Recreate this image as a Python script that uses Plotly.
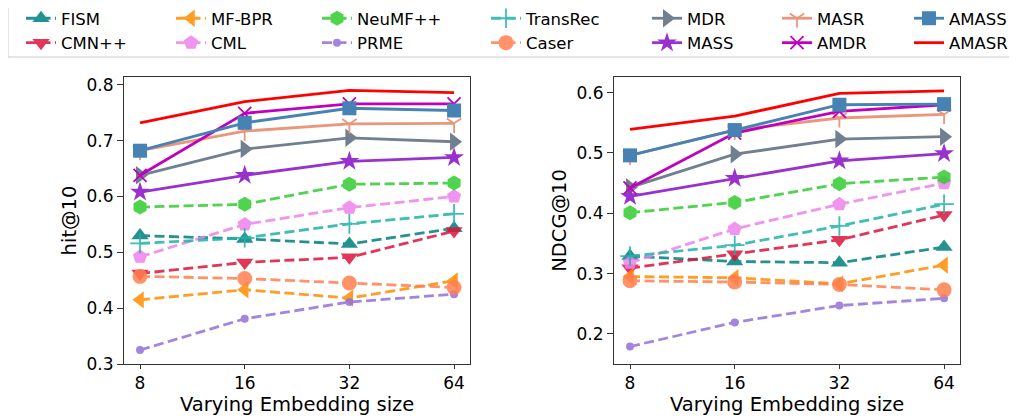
import plotly.graph_objects as go

sizes = [8, 16, 32, 64]
size_labels = ["8", "16", "32", "64"]

methods = ["FISM", "CMN++", "MF-BPR", "CML", "NeuMF++", "PRME", "TransRec",
           "Caser", "MDR", "MASS", "MASR", "AMDR", "AMASS", "AMASR"]

hit10 = {
    "FISM":     [0.530, 0.524, 0.515, 0.543],
    "CMN++":    [0.462, 0.482, 0.491, 0.538],
    "MF-BPR":   [0.415, 0.433, 0.418, 0.449],
    "CML":      [0.492, 0.550, 0.580, 0.600],
    "NeuMF++":  [0.581, 0.586, 0.622, 0.624],
    "PRME":     [0.325, 0.381, 0.411, 0.425],
    "TransRec": [0.516, 0.526, 0.551, 0.569],
    "Caser":    [0.457, 0.453, 0.445, 0.437],
    "MDR":      [0.638, 0.685, 0.705, 0.698],
    "MASS":     [0.608, 0.638, 0.663, 0.670],
    "MASR":     [0.682, 0.717, 0.730, 0.731],
    "AMDR":     [0.638, 0.749, 0.766, 0.766],
    "AMASS":    [0.682, 0.732, 0.758, 0.754],
    "AMASR":    [0.732, 0.770, 0.790, 0.786],
}

ndcg10 = {
    "FISM":     [0.329, 0.320, 0.318, 0.344],
    "CMN++":    [0.309, 0.332, 0.356, 0.397],
    "MF-BPR":   [0.295, 0.293, 0.283, 0.314],
    "CML":      [0.318, 0.374, 0.415, 0.450],
    "NeuMF++":  [0.401, 0.418, 0.449, 0.460],
    "PRME":     [0.179, 0.219, 0.247, 0.259],
    "TransRec": [0.329, 0.347, 0.379, 0.415],
    "Caser":    [0.288, 0.286, 0.282, 0.273],
    "MDR":      [0.443, 0.498, 0.523, 0.527],
    "MASS":     [0.428, 0.458, 0.487, 0.499],
    "MASR":     [0.496, 0.538, 0.558, 0.564],
    "AMDR":     [0.442, 0.533, 0.569, 0.580],
    "AMASS":    [0.496, 0.538, 0.580, 0.581],
    "AMASR":    [0.539, 0.561, 0.599, 0.603],
}

x_title = "Varying Embedding size"
y_titles = ["hit@10", "NDCG@10"]

style = {
    "FISM":     ("#008080", "dash", "triangle-up", 15),
    "CMN++":    ("#DC143C", "dash", "triangle-down", 15),
    "MF-BPR":   ("#FF8C00", "dash", "triangle-left", 15),
    "CML":      ("#EE82EE", "dash", "pentagon", 15),
    "NeuMF++":  ("#32CD32", "dash", "hexagon", 15),
    "PRME":     ("#9370DB", "dash", "circle", 8),
    "TransRec": ("#20B2AA", "dash", "cross-thin", 14),
    "Caser":    ("#FF7F50", "dash", "circle", 15),
    "MDR":      ("#708090", "solid", "triangle-right", 16),
    "MASS":     ("#9932CC", "solid", "star", 15),
    "MASR":     ("#E9967A", "solid", "y-down", 12),
    "AMDR":     ("#BF00BF", "solid", "x-thin", 13),
    "AMASS":    ("#4682B4", "solid", "square", 14),
    "AMASR":    ("#FF0000", "solid", None, 0),
}

# legend columns (column-major, 2 rows)
legend_cols = [["FISM", "CMN++"], ["MF-BPR", "CML"], ["NeuMF++", "PRME"],
               ["TransRec", "Caser"], ["MDR", "MASS"], ["MASR", "AMDR"],
               ["AMASS", "AMASR"]]
legend_text_x = [62, 212, 358, 527, 688, 818, 950]

W, H = 1017, 419
OFF = 8  # page body margin offset


def px(x):
    return (x - OFF) / W


def py(y):
    return 1 - (y - OFF) / H


fig = go.Figure()

legend_of = {}
for ci, col in enumerate(legend_cols):
    for m in col:
        legend_of[m] = "legend" if ci == 0 else f"legend{ci+1}"

for panel, (data, xa, ya) in enumerate([(hit10, "x", "y"), (ndcg10, "x2", "y2")]):
    for m in methods:
        color, dash, sym, msz = style[m]
        thin = sym in ("cross-thin", "x-thin", "y-down")
        marker = dict(symbol=sym, size=msz, color=color,
                      line=dict(color=color, width=1.8 if thin else 0)) if sym else None
        fig.add_trace(go.Scatter(
            x=sizes, y=data[m], name=m, xaxis=xa, yaxis=ya,
            mode="lines+markers" if sym else "lines",
            line=dict(color=color, width=2.8,
                      dash="10px,4.5px" if dash == "dash" else "solid"),
            marker=marker,
            opacity=0.85 if dash == "dash" else 1.0,
            showlegend=(panel == 0), legend=legend_of[m],
        ))

axis_common = dict(
    showline=True, linecolor="#333333", linewidth=1, mirror=True,
    ticks="outside", ticklen=6, tickcolor="#333333",
    showgrid=False, zeroline=False, automargin=False,
    tickfont=dict(family="DejaVu Sans", size=17, color="black"),
)
xcommon = dict(axis_common, type="log", tickvals=sizes, ticktext=size_labels,
               range=[0.857, 1.852], ticklen=4)
title_font = dict(family="DejaVu Sans", size=19.5, color="black")

x_domains = [[px(124), px(470)], [px(614), px(960)]]

layout = dict(
    width=W, height=H, margin=dict(l=0, r=0, t=0, b=0, autoexpand=False),
    paper_bgcolor="white", plot_bgcolor="white",
    font=dict(family="DejaVu Sans", size=16, color="black"),
    xaxis=dict(xcommon, domain=x_domains[0], anchor="y"),
    xaxis2=dict(xcommon, domain=x_domains[1], anchor="y2"),
    yaxis=dict(axis_common, domain=[py(364), py(77)], anchor="x",
               range=[0.3, 0.814], tickvals=[0.3, 0.4, 0.5, 0.6, 0.7, 0.8],
               ticktext=["0.3", "0.4", "0.5", "0.6", "0.7", "0.8"],
               title=dict(text=y_titles[0], standoff=4, font=title_font)),
    yaxis2=dict(axis_common, domain=[py(364), py(77)], anchor="x2",
                range=[0.15, 0.626], tickvals=[0.2, 0.3, 0.4, 0.5, 0.6],
                ticktext=["0.2", "0.3", "0.4", "0.5", "0.6"],
                title=dict(text=y_titles[1], standoff=4, font=title_font)),
    shapes=[dict(type="rect", xref="paper", yref="paper",
                 x0=px(8), x1=px(1014), y0=py(57), y1=py(2),
                 line=dict(color="#cccccc", width=1), fillcolor="rgba(0,0,0,0)")],
    annotations=[dict(text=x_title, xref="paper", yref="paper",
                      x=(d[0] + d[1]) / 2, y=py(404.5), xanchor="center",
                      yanchor="middle", showarrow=False, font=title_font)
                 for d in x_domains],
)
for ci in range(len(legend_cols)):
    key = "legend" if ci == 0 else f"legend{ci+1}"
    layout[key] = dict(
        x=(legend_text_x[ci] - 49) / W, y=(H + 7) / H,
        xanchor="left", yanchor="top", orientation="v",
        bgcolor="rgba(0,0,0,0)", borderwidth=0,
        font=dict(family="DejaVu Sans", size=16.5, color="black"),
        tracegroupgap=0, itemwidth=30,
    )
fig.update_layout(**layout)

fig.write_html("out.html")
